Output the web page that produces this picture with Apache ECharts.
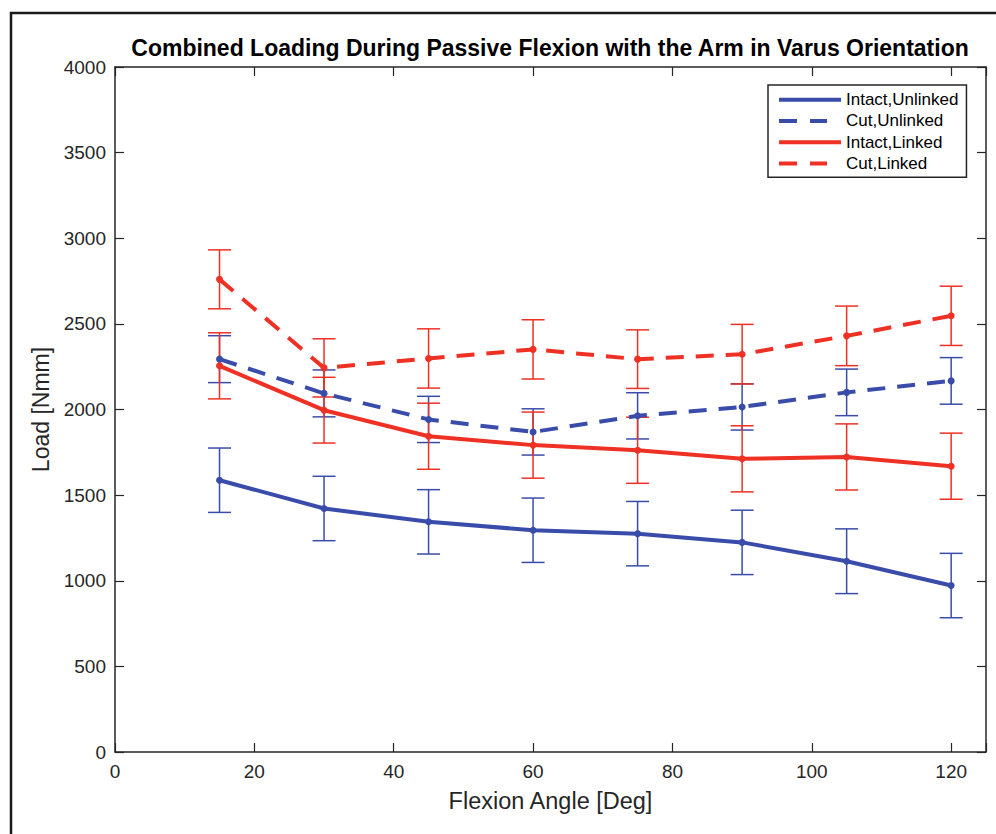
<!doctype html>
<html><head><meta charset="utf-8" />
<style>html,body,#app{margin:0;padding:0;width:996px;height:834px;background:#fff}</style>
<script src="https://cdn.jsdelivr.net/npm/echarts@6/dist/echarts.min.js"></script>
</head><body><div id="app"></div>
<script>
// values
const angles = [15, 30, 45, 60, 75, 90, 105, 120];
const intactUnlinked = [1587, 1422, 1344, 1295, 1275, 1224, 1114, 972];
const intactUnlinkedErr = [188, 188, 188, 188, 188, 188, 189, 188];
const cutUnlinked = [2294, 2094, 1942, 1869, 1963, 2015, 2100, 2167];
const cutUnlinkedErr = [137, 137, 135, 135, 135, 135, 136, 136];
const intactLinked = [2255, 1996, 1844, 1792, 1762, 1712, 1723, 1669];
const intactLinkedErr = [193, 192, 193, 193, 193, 193, 193, 193];
const cutLinked = [2760, 2243, 2298, 2351, 2294, 2323, 2430, 2547];
const cutLinkedErr = [172, 170, 173, 173, 171, 174, 174, 173];
const yTicks = [0, 500, 1000, 1500, 2000, 2500, 3000, 3500, 4000];
const xTicks = [0, 20, 40, 60, 80, 100, 120];

const BLUE = '#3a4caa', RED = '#ee3124', AXIS = '#262626';
const FONT = '"Liberation Sans", Arial, Helvetica, sans-serif';
const SOLID_ICON = 'path://M0,0H62V4H0Z';
const DASH_ICON = 'path://M0,0H18V4H0ZM31,0H48V4H31ZM61.9,2H62V2.01H61.9Z';

function lineSeries(name, vals, color, dashed) {
  return {
    name, type: 'line', data: angles.map((a, i) => [a, vals[i]]),
    symbol: 'circle', symbolSize: 7, showAllSymbol: true,
    itemStyle: { color, borderWidth: 0 },
    lineStyle: { color, width: 4, type: dashed ? [18, 12] : 'solid' },
    z: 3
  };
}
function errSeries(name, vals, errs, color) {
  return {
    name: name + ' err', type: 'custom', z: 2,
    data: angles.map((a, i) => [a, vals[i] - errs[i], vals[i] + errs[i]]),
    encode: { x: 0, y: [1, 2] },
    renderItem(params, api) {
      const x = api.value(0);
      const lo = api.coord([x, api.value(1)]);
      const hi = api.coord([x, api.value(2)]);
      const w = 11.5, st = { stroke: color, lineWidth: 1.5 };
      return { type: 'group', children: [
        { type: 'line', shape: { x1: lo[0], y1: lo[1], x2: hi[0], y2: hi[1] }, style: st },
        { type: 'line', shape: { x1: lo[0] - w, y1: lo[1], x2: lo[0] + w, y2: lo[1] }, style: st },
        { type: 'line', shape: { x1: hi[0] - w, y1: hi[1], x2: hi[0] + w, y2: hi[1] }, style: st }
      ] };
    }
  };
}

const axisCommon = {
  type: 'value', splitLine: { show: false },
  axisLine: { show: true, onZero: false, lineStyle: { color: AXIS, width: 1.5 } },
  axisTick: { show: true, inside: true, length: 9, lineStyle: { color: AXIS, width: 1.2 } }
};

const chart = echarts.init(document.getElementById('app'), null, { renderer: 'svg' });
chart.setOption({
  animation: false,
  backgroundColor: '#fff',
  title: {
    text: 'Combined Loading During Passive Flexion with the Arm in Varus Orientation',
    left: 545, top: 31, textAlign: 'center',
    textStyle: { fontFamily: FONT, fontSize: 23, fontWeight: 'bold', color: '#000' }
  },
  grid: { left: 115, right: 10, top: 67, bottom: 82 },
  legend: {
    orient: 'vertical', left: 768, top: 85, padding: [4, 8, 3, 11],
    itemWidth: 62, itemHeight: 4, itemGap: 0,
    backgroundColor: '#fff', borderColor: AXIS, borderWidth: 1.5,
    itemStyle: { borderWidth: 0 },
    textStyle: { fontFamily: FONT, fontSize: 17, color: '#000', lineHeight: 21.3 },
    data: [
      { name: 'Intact,Unlinked', icon: SOLID_ICON },
      { name: 'Cut,Unlinked', icon: DASH_ICON },
      { name: 'Intact,Linked', icon: SOLID_ICON },
      { name: 'Cut,Linked', icon: DASH_ICON }
    ]
  },
  xAxis: [
    Object.assign({}, axisCommon, {
      position: 'bottom', min: 0, max: 125, interval: 20,
      name: 'Flexion Angle [Deg]', nameLocation: 'middle', nameGap: 37,
      nameTextStyle: { fontFamily: FONT, fontSize: 23.5, color: AXIS },
      axisLabel: { margin: 10, fontFamily: FONT, fontSize: 19, color: AXIS,
        formatter: v => xTicks.includes(v) ? String(v) : '' }
    }),
    Object.assign({}, axisCommon, {
      position: 'top', min: 0, max: 125, interval: 20, axisLabel: { show: false }
    })
  ],
  yAxis: [
    Object.assign({}, axisCommon, {
      position: 'left', min: 0, max: 4000, interval: 500,
      name: 'Load [Nmm]', nameLocation: 'middle', nameGap: 58, nameRotate: 90,
      nameTextStyle: { fontFamily: FONT, fontSize: 23, color: AXIS },
      axisLabel: { margin: 9, fontFamily: FONT, fontSize: 19, color: AXIS,
        formatter: v => yTicks.includes(v) ? String(v) : '' }
    }),
    Object.assign({}, axisCommon, {
      position: 'right', min: 0, max: 4000, interval: 500, axisLabel: { show: false }
    })
  ],
  graphic: [{
    type: 'rect', silent: true, z: 100,
    shape: { x: 11, y: 13, width: 1200, height: 1000 },
    style: { fill: 'none', stroke: '#1a1a1a', lineWidth: 2.5 }
  }],
  series: [
    errSeries('Intact,Unlinked', intactUnlinked, intactUnlinkedErr, BLUE),
    lineSeries('Intact,Unlinked', intactUnlinked, BLUE, false),
    errSeries('Cut,Unlinked', cutUnlinked, cutUnlinkedErr, BLUE),
    lineSeries('Cut,Unlinked', cutUnlinked, BLUE, true),
    errSeries('Intact,Linked', intactLinked, intactLinkedErr, RED),
    lineSeries('Intact,Linked', intactLinked, RED, false),
    errSeries('Cut,Linked', cutLinked, cutLinkedErr, RED),
    lineSeries('Cut,Linked', cutLinked, RED, true)
  ]
});
</script></body></html>
